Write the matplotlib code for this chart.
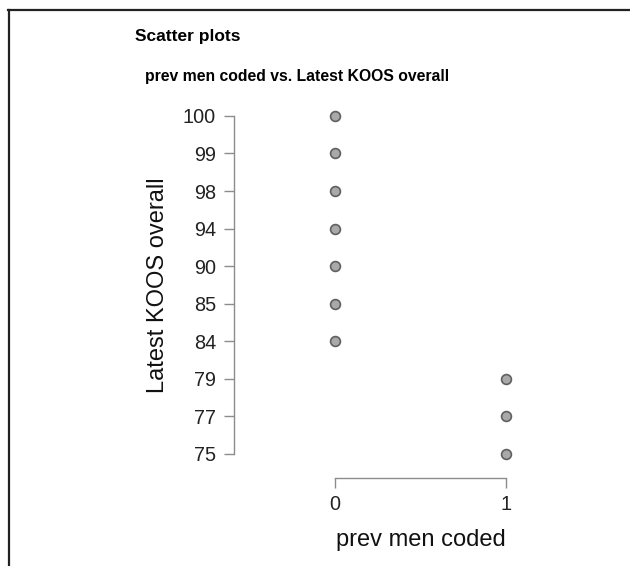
import matplotlib
matplotlib.use("Agg")
import matplotlib.pyplot as plt
from matplotlib.lines import Line2D

plt.rcParams['font.family'] = ['Liberation Sans', 'DejaVu Sans']

# Data: each KOOS score is its own category on the y axis
koos_levels = [75, 77, 79, 84, 85, 90, 94, 98, 99, 100]
prev_men = [0, 0, 0, 0, 0, 0, 0, 1, 1, 1]
koos_scores = [100, 99, 98, 94, 90, 85, 84, 79, 77, 75]
x_ticks = [0, 1]

W, H = 630, 566
fig = plt.figure(figsize=(W / 100, H / 100), dpi=100)

AX_L, AX_T, AX_R, AX_B = 234, 108, 523, 478

def px(x0, y0, x1, y1):
    return [x0 / W, 1 - y1 / H, (x1 - x0) / W, (y1 - y0) / H]

# Frame lines around the output panel
fig.add_artist(Line2D([8 / W, 1], [1 - 10 / H] * 2, color='#222222', lw=1.6))
fig.add_artist(Line2D([9 / W] * 2, [0, 1 - 10 / H], color='#222222', lw=1.6))

fig.text(135 / W, 1 - 37 / H, 'Scatter plots', fontsize=12.5, fontweight='bold',
         va='center', ha='left')
fig.text(145 / W, 1 - 76 / H, 'prev men coded vs. Latest KOOS overall',
         fontsize=11.3, fontweight='bold', va='center', ha='left')

ax = fig.add_axes(px(AX_L, AX_T, AX_R, AX_B))
idx = {v: i for i, v in enumerate(koos_levels)}
yvals = [idx[v] for v in koos_scores]
ax.scatter(prev_men, yvals, s=50, facecolor='#a9a9a9', edgecolor='#606060',
           linewidths=1.2, zorder=3, clip_on=False)

xlim = (-0.59, 1.1)
ax.set_xlim(*xlim)
ax.set_ylim(-0.64, 9.21)
ax.set_yticks(range(len(koos_levels)))
ax.set_yticklabels([str(v) for v in koos_levels])
ax.set_xticks(x_ticks)
ax.set_xticklabels([str(v) for v in x_ticks])

for s in ['top', 'right']:
    ax.spines[s].set_visible(False)
ax.spines['left'].set_bounds(0, 9)
ax.spines['bottom'].set_bounds(0, 1)
for s in ['left', 'bottom']:
    ax.spines[s].set_color('#8c8c8c')
    ax.spines[s].set_linewidth(1.0)
ax.tick_params(axis='y', colors='#8c8c8c', labelcolor='#222222',
               labelsize=14.3, length=7, width=1.0, pad=6)
ax.tick_params(axis='x', colors='#8c8c8c', labelcolor='#222222',
               labelsize=14.3, length=7, width=1.0, pad=5)

ax.set_ylabel('Latest KOOS overall', fontsize=17, color='#111111')
ax.set_xlabel('prev men coded', fontsize=17, color='#111111')

# Center axis titles on the span covered by the axis lines
w_px, h_px = AX_R - AX_L, AX_B - AX_T
x_mid = (0.5 - xlim[0]) / (xlim[1] - xlim[0])
ax.xaxis.set_label_coords(x_mid, -(540 - AX_B) / h_px)
ax.xaxis.label.set_va('center')
ax.yaxis.set_label_coords(-(AX_L - 158) / w_px, (AX_B - 285) / h_px)
ax.yaxis.label.set_va('center')

fig.savefig('out.png', dpi=100)
